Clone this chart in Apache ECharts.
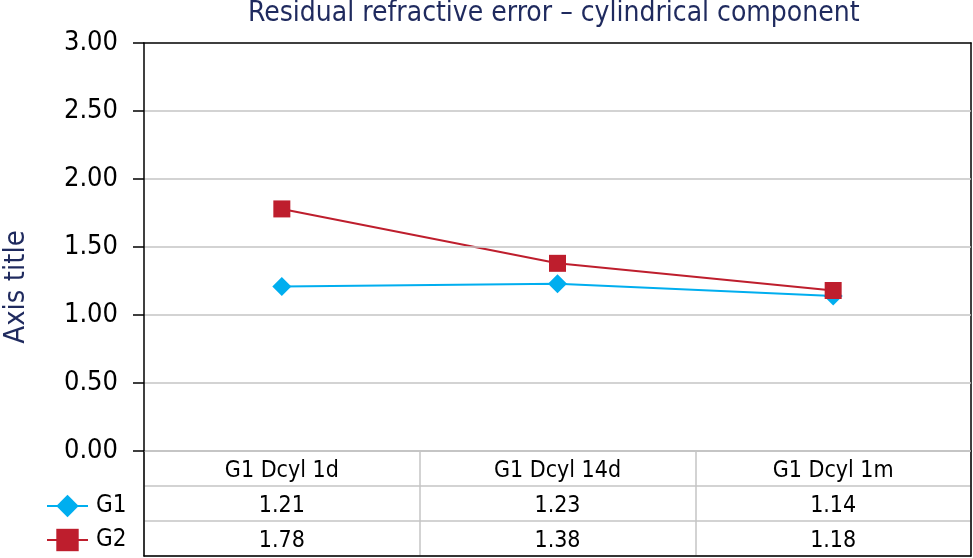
<!DOCTYPE html>
<html>
<head>
<meta charset="utf-8">
<script src="https://cdn.jsdelivr.net/npm/echarts@6/dist/echarts.min.js"></script>
<style>html,body{margin:0;padding:0;background:#fff}#c{width:973px;height:558px}</style>
</head>
<body>
<div id="c"></div>
<script>
var categories = ['G1 Dcyl 1d', 'G1 Dcyl 14d', 'G1 Dcyl 1m'];
var g1Values = [1.21, 1.23, 1.14];
var g2Values = [1.78, 1.38, 1.18];
var seriesNames = ['G1', 'G2'];

var FONT = "'Liberation Sans Narrow', 'DejaVu Sans Condensed', sans-serif";
var NAVY = '#1f2a5e';
var BLUE = '#00aeef';
var RED = '#be1e2d';
var GRAY = '#c4c4c4';

var chart = echarts.init(document.getElementById('c'), null, {renderer: 'canvas'});

var tableRows = ['hdr'].concat(seriesNames);
var tableData = [];
categories.forEach(function (c, i) {
  tableData.push({value: [i, 'hdr'], text: c});
  tableData.push({value: [i, 'G1'], text: g1Values[i].toFixed(2)});
  tableData.push({value: [i, 'G2'], text: g2Values[i].toFixed(2)});
});

function legendCfg(name, top) {
  return {data: [name], orient: 'vertical', left: 46, top: top, padding: 0, itemWidth: 41, itemHeight: 28,
          textStyle: {fontFamily: FONT, fontSize: 24, color: '#000', lineHeight: 28, padding: [2, 0, 0, 3]}};
}

var option = {
  animation: false,
  title: {
    text: 'Residual refractive error \u2013 cylindrical component',
    left: 248, top: 0, padding: 0,
    textStyle: {fontFamily: FONT, fontSize: 28, fontWeight: 'normal', color: NAVY}
  },
  graphic: [{
    type: 'text', x: 16, y: 287, rotation: Math.PI / 2,
    style: {text: 'Axis title', fontFamily: FONT, fontSize: 29, fill: NAVY, align: 'center', verticalAlign: 'middle'}
  }],
  legend: [legendCfg('G1', 491), legendCfg('G2', 525)],
  grid: [
    {left: 144, top: 43, width: 827, height: 408},
    {left: 144, top: 451, width: 827, height: 105}
  ],
  xAxis: [
    {gridIndex: 0, type: 'category', data: categories, boundaryGap: true,
     axisLine: {show: true, onZero: false, lineStyle: {color: GRAY, width: 1.5}}, axisTick: {show: false}, axisLabel: {show: false}},
    {gridIndex: 0, type: 'category', data: categories, position: 'top', z: 5,
     axisLine: {show: true, onZero: false, lineStyle: {color: '#000', width: 1.5}}, axisTick: {show: false}, axisLabel: {show: false}},
    {gridIndex: 1, type: 'category', data: categories, boundaryGap: true, position: 'bottom', z: 5,
     axisLine: {show: true, onZero: false, lineStyle: {color: '#000', width: 1.5}}, axisTick: {show: false}, axisLabel: {show: false},
     splitLine: {show: true, lineStyle: {color: GRAY, width: 1.5}}}
  ],
  yAxis: [
    {gridIndex: 0, type: 'value', min: 0, max: 3, interval: 0.5, z: 6,
     axisLine: {show: true, onZero: false, lineStyle: {color: '#000', width: 1.5}},
     axisTick: {show: true, length: 11, lineStyle: {color: '#000', width: 1.5}},
     axisLabel: {margin: 26, fontFamily: FONT, fontSize: 27, color: '#000', formatter: function (v) { return v.toFixed(2); }},
     splitLine: {show: true, showMaxLine: false, lineStyle: {color: GRAY, width: 1.5}}},
    {gridIndex: 0, type: 'value', min: 0, max: 3, interval: 0.5, position: 'right', z: 5,
     axisLine: {show: true, onZero: false, lineStyle: {color: '#000', width: 1.5}}, axisTick: {show: false}, axisLabel: {show: false}, splitLine: {show: false}},
    {gridIndex: 1, type: 'category', data: tableRows, inverse: true, z: 5,
     axisLine: {show: true, onZero: false, lineStyle: {color: '#000', width: 1.5}}, axisTick: {show: false}, axisLabel: {show: false},
     splitLine: {show: true, lineStyle: {color: GRAY, width: 1.5}}},
    {gridIndex: 1, type: 'category', data: tableRows, inverse: true, position: 'right', z: 5,
     axisLine: {show: true, onZero: false, lineStyle: {color: '#000', width: 1.5}}, axisTick: {show: false}, axisLabel: {show: false}}
  ],
  series: [
    {name: 'G1', type: 'line', xAxisIndex: 0, yAxisIndex: 0, data: g1Values,
     symbol: 'diamond', symbolSize: 19, color: BLUE, lineStyle: {width: 2, color: BLUE}, itemStyle: {color: BLUE}},
    {name: 'G2', type: 'line', xAxisIndex: 0, yAxisIndex: 0, data: g2Values,
     symbol: 'rect', symbolSize: 17, color: RED, lineStyle: {width: 2, color: RED}, itemStyle: {color: RED}},
    {name: 'table', type: 'scatter', xAxisIndex: 2, yAxisIndex: 2, data: tableData, symbolSize: 0, silent: true,
     itemStyle: {color: '#000'},
     label: {show: true, position: 'inside', offset: [0, 3], fontFamily: FONT, fontSize: 23, color: '#000',
             textBorderWidth: 0, opacity: 1, formatter: function (p) { return p.data.text; }}}
  ]
};
chart.setOption(option);
</script>
</body>
</html>
